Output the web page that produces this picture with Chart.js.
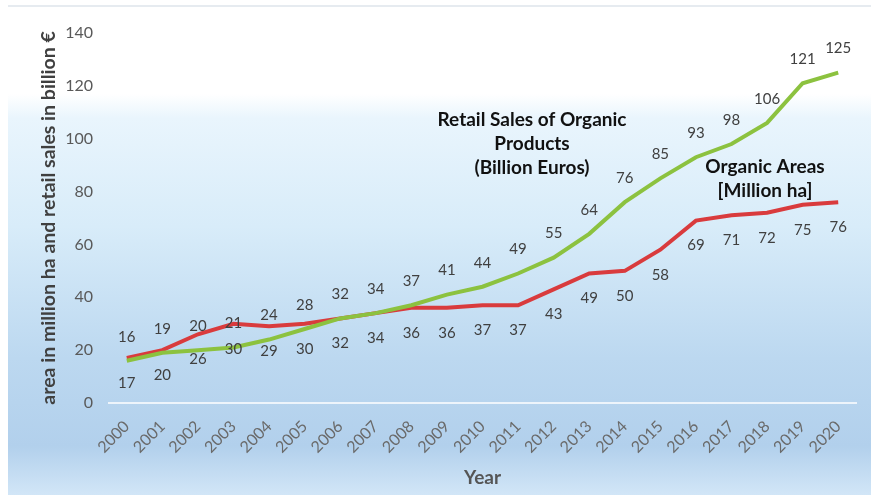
<!DOCTYPE html>
<html>
<head>
<meta charset="utf-8">
<script src="https://cdn.jsdelivr.net/npm/chart.js@4.4.1/dist/chart.umd.min.js"></script>
<style>
  html, body { margin: 0; padding: 0; background: #fff; }
  #wrap { width: 871px; height: 495px; position: relative; }
</style>
</head>
<body>
<div id="wrap"><canvas id="myChart"></canvas></div>
<script>
// data
var years = ['2000','2001','2002','2003','2004','2005','2006','2007','2008','2009','2010',
             '2011','2012','2013','2014','2015','2016','2017','2018','2019','2020'];
var retailSales = [16, 19, 20, 21, 24, 28, 32, 34, 37, 41, 44, 49, 55, 64, 76, 85, 93, 98, 106, 121, 125];
var organicArea = [17, 20, 26, 30, 29, 30, 32, 34, 36, 36, 37, 37, 43, 49, 50, 58, 69, 71, 72, 75, 76];
var yTicks = [0, 20, 40, 60, 80, 100, 120, 140];

var FONT = 'Lato, "Open Sans", sans-serif';

// gradient background + top rule
var backdrop = {
  id: 'backdrop',
  beforeDraw: function(chart) {
    var c = chart.ctx;
    c.save();
    var g = c.createLinearGradient(0, 6, 0, 495);
    g.addColorStop(0, '#ffffff');
    g.addColorStop(0.18, '#ffffff');
    g.addColorStop(0.23, '#e9f5fd');
    g.addColorStop(0.45, '#d8ecf9');
    g.addColorStop(0.72, '#bcd8f0');
    g.addColorStop(0.9, '#b2d0ec');
    g.addColorStop(1, '#d2e6f7');
    c.fillStyle = g;
    c.fillRect(8, 6, chart.width - 8, chart.height - 6);
    c.fillStyle = '#e6ebf0';
    c.fillRect(8, 5, chart.width - 8, 2);
    c.restore();
  }
};

// value labels: retail above its line, area below its line
var valueLabels = {
  id: 'valueLabels',
  afterDatasetsDraw: function(chart) {
    var c = chart.ctx;
    c.save();
    c.font = '15px ' + FONT;
    c.fillStyle = '#404040';
    c.textAlign = 'center';
    c.textBaseline = 'middle';
    chart.data.datasets.forEach(function(ds, i) {
      var meta = chart.getDatasetMeta(i);
      var off = ds.labelOffset;
      meta.data.forEach(function(pt, j) {
        c.fillText(String(ds.data[j]), pt.x, pt.y + off);
      });
    });
    c.restore();
  }
};

// series names written on the chart
var seriesNotes = {
  id: 'seriesNotes',
  afterDraw: function(chart) {
    var c = chart.ctx;
    c.save();
    c.font = 'bold 19px ' + FONT;
    c.fillStyle = '#111111';
    c.textAlign = 'center';
    c.textBaseline = 'middle';
    c.fillText('Retail Sales of Organic', 532, 120);
    c.fillText('Products', 532, 144);
    c.fillText('(Billion Euros)', 532, 168);
    c.fillText('Organic Areas', 765, 167);
    c.fillText('[Million ha]', 765, 191);
    c.restore();
  }
};

var ctx = document.getElementById('myChart');
var OrganicChart = new Chart(ctx, {
  type: 'line',
  data: {
    labels: years,
    datasets: [
      {
        label: 'Retail Sales of Organic Products (Billion Euros)',
        data: retailSales,
        borderColor: '#8cc23f',
        borderWidth: 4,
        pointRadius: 0,
        tension: 0,
        labelOffset: -24
      },
      {
        label: 'Organic Areas [Million ha]',
        data: organicArea,
        borderColor: '#d93b3d',
        borderWidth: 4,
        pointRadius: 0,
        tension: 0,
        labelOffset: 25
      }
    ]
  },
  options: {
    responsive: true,
    maintainAspectRatio: false,
    animation: false,
    events: [],
    layout: { padding: { left: 37, right: 15, top: 33, bottom: 0 } },
    plugins: {
      legend: { display: false },
      tooltip: { enabled: false }
    },
    scales: {
      x: {
        offset: true,
        grid: { display: false, drawTicks: false },
        border: { display: true, color: 'rgba(255,255,255,0.75)', width: 2 },
        ticks: {
          color: '#6a6a6a',
          font: { family: FONT, size: 16 },
          minRotation: 45,
          maxRotation: 45,
          padding: 14
        },
        title: {
          display: true,
          text: 'Year',
          color: '#555555',
          font: { family: FONT, size: 19, weight: 'bold' },
          padding: { top: 0, bottom: 6 }
        },
        afterFit: function(scale) { scale.height = 92; }
      },
      y: {
        min: 0,
        max: 140,
        afterBuildTicks: function(scale) {
          scale.ticks = yTicks.map(function(v) { return { value: v }; });
        },
        grid: { display: false, drawTicks: false },
        border: { display: false },
        ticks: {
          color: '#595959',
          font: { family: FONT, size: 16 },
          padding: 16
        },
        title: {
          display: true,
          text: 'area in million ha and retail sales in billion €',
          color: '#404040',
          font: { family: FONT, size: 19.5, weight: 'bold' },
          padding: { top: 0, bottom: 0 }
        },
        afterFit: function(scale) { scale.width = 72; }
      }
    }
  },
  plugins: [backdrop, valueLabels, seriesNotes]
});
</script>
</body>
</html>
